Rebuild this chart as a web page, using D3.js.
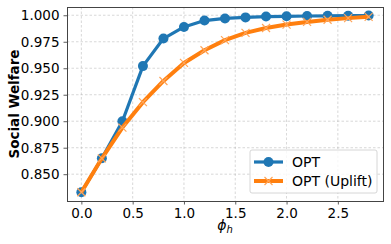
<!DOCTYPE html>
<html>
<head>
<meta charset="utf-8">
<script src="https://cdn.jsdelivr.net/npm/d3@7"></script>
<style>
  body { margin: 0; background: #fff; }
  svg { display: block; font-family: "DejaVu Sans", sans-serif; }
</style>
</head>
<body>
<svg id="chart" width="391" height="244"></svg>
<script>
var phiValues = [0.0, 0.2, 0.4, 0.6, 0.8, 1.0, 1.2, 1.4, 1.6, 1.8, 2.0, 2.2, 2.4, 2.6, 2.8];
var optValues = [0.833, 0.865, 0.900, 0.952, 0.978, 0.989, 0.995, 0.997, 0.998, 0.9988, 0.999, 0.9993, 0.9995, 0.9996, 0.9997];
var upliftValues = [0.833, 0.865, 0.894, 0.918, 0.938, 0.955, 0.967, 0.9765, 0.9834, 0.988, 0.9912, 0.9937, 0.9958, 0.9973, 0.9985];
var xTicks = [0.0, 0.5, 1.0, 1.5, 2.0, 2.5];
var yTicks = [0.850, 0.875, 0.900, 0.925, 0.950, 0.975, 1.000];
var seriesNames = ['OPT', 'OPT (Uplift)'];

var margin = { left: 67, right: 8, top: 7, bottom: 43 };
var svg = d3.select('#chart');
var width = 391 - margin.left - margin.right;
var height = 244 - margin.top - margin.bottom;

var x = d3.scaleLinear().domain([-0.14, 2.94]).range([0, width]);
var y = d3.scaleLinear().domain([0.8247, 1.0078]).range([height, 0]);

var g = svg.append('g')
    .attr('transform', 'translate(' + margin.left + ',' + margin.top + ')');

// Grid
g.append('g').selectAll('line')
    .data(xTicks)
    .enter().append('line')
    .attr('x1', function(d) { return x(d); })
    .attr('x2', function(d) { return x(d); })
    .attr('y1', 0).attr('y2', height)
    .style('stroke', '#b0b0b0').style('stroke-width', 0.8)
    .style('stroke-dasharray', '2.5,2').style('opacity', 0.6);
g.append('g').selectAll('line')
    .data(yTicks)
    .enter().append('line')
    .attr('y1', function(d) { return y(d); })
    .attr('y2', function(d) { return y(d); })
    .attr('x1', 0).attr('x2', width)
    .style('stroke', '#b0b0b0').style('stroke-width', 0.8)
    .style('stroke-dasharray', '2.5,2').style('opacity', 0.6);

// Axes
var xAxis = d3.axisBottom(x).tickValues(xTicks).tickFormat(d3.format('.1f'))
    .tickSizeInner(3.5).tickSizeOuter(0).tickPadding(4);
var yAxis = d3.axisLeft(y).tickValues(yTicks).tickFormat(d3.format('.3f'))
    .tickSizeInner(3.5).tickSizeOuter(0).tickPadding(4);

var gx = g.append('g').attr('transform', 'translate(0,' + height + ')').call(xAxis);
var gy = g.append('g').call(yAxis);
[gx, gy].forEach(function(a) {
    a.select('.domain').remove();
    a.selectAll('.tick line').style('stroke', '#333').style('stroke-width', 0.8);
    a.selectAll('.tick text').style('font-size', '13.5px').style('fill', '#000')
        .style('font-family', '"DejaVu Sans", sans-serif');
});

// Border
g.append('rect')
    .attr('x', 0).attr('y', 0).attr('width', width).attr('height', height)
    .style('fill', 'none').style('stroke', '#444').style('stroke-width', 1)
    .attr('shape-rendering', 'crispEdges');

// Lines
var line = d3.line()
    .x(function(d, i) { return x(phiValues[i]); })
    .y(function(d) { return y(d); });

g.append('path').datum(optValues)
    .attr('d', line)
    .style('fill', 'none').style('stroke', '#1f77b4').style('stroke-width', 3.2)
    .style('stroke-linejoin', 'round');
g.append('g').selectAll('circle')
    .data(optValues)
    .enter().append('circle')
    .attr('cx', function(d, i) { return x(phiValues[i]); })
    .attr('cy', function(d) { return y(d); })
    .attr('r', 5)
    .style('fill', '#1f77b4');

g.append('path').datum(upliftValues)
    .attr('d', line)
    .style('fill', 'none').style('stroke', '#ff7f0e').style('stroke-width', 4)
    .style('stroke-linejoin', 'round');

var xMark = function(cx, cy, s) {
    return 'M' + (cx - s) + ',' + (cy - s) + 'L' + (cx + s) + ',' + (cy + s) +
        'M' + (cx - s) + ',' + (cy + s) + 'L' + (cx + s) + ',' + (cy - s);
};
g.append('g').selectAll('path')
    .data(upliftValues)
    .enter().append('path')
    .attr('d', function(d, i) { return xMark(x(phiValues[i]), y(d), 4); })
    .style('stroke', '#ffa55a').style('stroke-width', 1.2).style('fill', 'none');

// Axis labels
svg.append('text')
    .attr('x', margin.left + width / 2)
    .attr('y', 230)
    .attr('text-anchor', 'middle')
    .style('font-size', '14px')
    .style('font-style', 'italic')
    .html('\u03d5<tspan dy="3" font-size="10">h</tspan>');

svg.append('text')
    .attr('transform', 'translate(19,' + (margin.top + height / 2) + ') rotate(-90)')
    .attr('text-anchor', 'middle')
    .style('font-size', '13.5px')
    .style('font-weight', 'bold')
    .text('Social Welfare');

// Legend
var legend = g.append('g').attr('transform', 'translate(' + (250 - margin.left) + ',' + (150 - margin.top) + ')');
legend.append('rect')
    .attr('width', 127).attr('height', 43).attr('rx', 2)
    .style('fill', '#fff').style('fill-opacity', 0.8)
    .style('stroke', '#ccc').style('stroke-width', 0.8);

var legendColors = ['#1f77b4', '#ff7f0e'];
seriesNames.forEach(function(name, i) {
    var ly = 12 + i * 19;
    legend.append('line')
        .attr('x1', 4).attr('x2', 33).attr('y1', ly).attr('y2', ly)
        .style('stroke', legendColors[i]).style('stroke-width', i === 0 ? 3.2 : 4);
    if (i === 0) {
        legend.append('circle').attr('cx', 18.5).attr('cy', ly).attr('r', 5)
            .style('fill', legendColors[i]);
    } else {
        legend.append('path').attr('d', xMark(18.5, ly, 4))
            .style('stroke', '#ffa55a').style('stroke-width', 1.2);
    }
    legend.append('text')
        .attr('x', 42).attr('y', ly + 5)
        .style('font-size', '14px')
        .text(name);
});
</script>
</body>
</html>
